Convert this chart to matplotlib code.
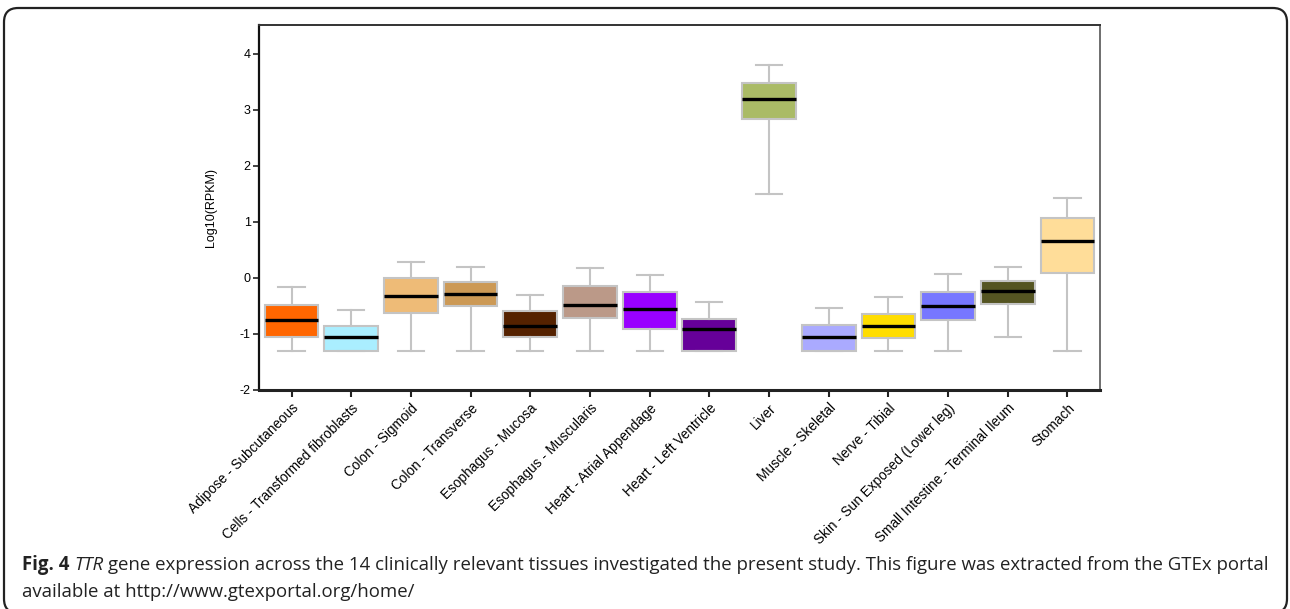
import matplotlib
matplotlib.use("Agg")
import matplotlib.pyplot as plt
from matplotlib.patches import FancyBboxPatch
from matplotlib import font_manager

# ---------------- data ----------------
tissues = [
    "Adipose - Subcutaneous", "Cells - Transformed fibroblasts", "Colon - Sigmoid",
    "Colon - Transverse", "Esophagus - Mucosa", "Esophagus - Muscularis",
    "Heart - Atrial Appendage", "Heart - Left Ventricle", "Liver",
    "Muscle - Skeletal", "Nerve - Tibial", "Skin - Sun Exposed (Lower leg)",
    "Small Intestine - Terminal Ileum", "Stomach",
]
whisker_low = [-1.31, -1.31, -1.31, -1.31, -1.30, -1.30, -1.30, -1.30, 1.49, -1.30, -1.31, -1.31, -1.05, -1.31]
q1 = [-1.05, -1.31, -0.63, -0.51, -1.06, -0.72, -0.91, -1.30, 2.84, -1.30, -1.07, -0.76, -0.46, 0.09]
median = [-0.75, -1.06, -0.32, -0.28, -0.86, -0.48, -0.56, -0.92, 3.19, -1.06, -0.85, -0.51, -0.23, 0.66]
q3 = [-0.49, -0.86, 0.00, -0.08, -0.59, -0.15, -0.26, -0.73, 3.48, -0.84, -0.64, -0.25, -0.06, 1.06]
whisker_high = [-0.17, -0.58, 0.29, 0.20, -0.30, 0.17, 0.06, -0.435, 3.79, -0.54, -0.35, 0.065, 0.20, 1.42]
box_colors = ["#FF6600", "#AAEEFF", "#EEBB77", "#CC9955", "#552200", "#BB9988",
              "#9900FF", "#660099", "#AABB66", "#AAAAFF", "#FFDD00", "#7777FF",
              "#555522", "#FFDD99"]
y_ticks = [-2, -1, 0, 1, 2, 3, 4]
y_label = "Log10(RPKM)"
caption_bold = "Fig. 4"
caption_italic = "TTR"
caption_rest1 = "gene expression across the 14 clinically relevant tissues investigated the present study. This figure was extracted from the GTEx portal"
caption_line2 = "available at http://www.gtexportal.org/home/"

# ---------------- figure ----------------
W, H = 1290, 609
fig = plt.figure(figsize=(W / 100, H / 100), dpi=100)

def fx(px):
    return px / W

def fy(py):
    return 1 - py / H

# rounded outer frame
frame = FancyBboxPatch((fx(4), fy(613)), fx(1287) - fx(4), fy(8) - fy(613),
                       boxstyle="round,pad=0,rounding_size=0.011",
                       transform=fig.transFigure, fill=False,
                       edgecolor="#222222", linewidth=1.6, mutation_aspect=W / H)
fig.patches.append(frame)

ax = fig.add_axes([fx(259), fy(390), fx(1100) - fx(259), fy(25) - fy(390)])

stats = []
for t, lo, a, m, b, hi in zip(tissues, whisker_low, q1, median, q3, whisker_high):
    stats.append(dict(label=t, whislo=lo, q1=a, med=m, q3=b, whishi=hi, fliers=[]))

grey = "#c4c4c4"
bp = ax.bxp(stats, positions=list(range(len(tissues))), widths=0.9,
            patch_artist=True, showfliers=False, capwidths=0.44,
            boxprops=dict(edgecolor=grey, linewidth=1.5),
            whiskerprops=dict(color=grey, linewidth=1.5),
            capprops=dict(color=grey, linewidth=1.5),
            medianprops=dict(color="black", linewidth=2.4))
for patch, c in zip(bp["boxes"], box_colors):
    patch.set_facecolor(c)

ax.set_xlim(-0.545, len(tissues) - 1 + 0.545)
ax.set_ylim(-2, 4.51)
ax.set_yticks(y_ticks)
ax.set_yticklabels([str(v) for v in y_ticks], fontsize=9, family="Liberation Sans")
ax.set_xticks(list(range(len(tissues))))
ax.set_xticklabels(tissues, rotation=45, ha="right", va="top", rotation_mode="anchor",
                   fontsize=9.8, family="Liberation Sans")
ax.tick_params(axis="x", direction="out", length=5, width=1.5, pad=3, color="#222222")
ax.tick_params(axis="y", direction="out", length=4, width=1.2, pad=2, color="#222222")
ax.set_ylabel(y_label, fontsize=9, family="Liberation Sans", labelpad=16)

ax.spines["left"].set_linewidth(1.6)
ax.spines["left"].set_color("#111111")
ax.spines["bottom"].set_linewidth(2.2)
ax.spines["bottom"].set_color("#222222")
ax.spines["top"].set_linewidth(1.4)
ax.spines["top"].set_color("#333333")
ax.spines["right"].set_linewidth(1.2)
ax.spines["right"].set_color("#555555")

# ---------------- caption ----------------
cap_family = "Open Sans"
try:
    font_manager.findfont(font_manager.FontProperties(family="Liberation Sans Narrow"),
                          fallback_to_default=False)
    cap_family = "Liberation Sans Narrow"
except Exception:
    pass

renderer = fig.canvas.get_renderer()

def width_px(s, size, weight="normal", style="normal"):
    t = fig.text(0, 0, s, fontsize=size, family=cap_family, weight=weight, style=style)
    w = t.get_window_extent(renderer).width
    t.remove()
    return w

base = 12.0
space = width_px("a a", base) - width_px("aa", base)
total = (width_px(caption_bold, base, weight="bold") + space
         + width_px(caption_italic, base, style="italic") + space
         + width_px(caption_rest1, base))
size = base * (1262 - 22) / total
size = min(size, 14.5)

x = 22
y1 = fy(570)
y2 = fy(597)
space = width_px("a a", size) - width_px("aa", size)
t = fig.text(fx(x), y1, caption_bold, fontsize=size, family=cap_family, weight="bold",
             va="baseline", color="#222222")
x += t.get_window_extent(renderer).width + space
t = fig.text(fx(x), y1, caption_italic, fontsize=size, family=cap_family, style="italic",
             va="baseline", color="#222222")
x += t.get_window_extent(renderer).width + space
fig.text(fx(x), y1, caption_rest1, fontsize=size, family=cap_family, va="baseline",
         color="#222222")
fig.text(fx(22), y2, caption_line2, fontsize=size, family=cap_family, va="baseline",
         color="#222222")

fig.savefig("out.png", dpi=100)
